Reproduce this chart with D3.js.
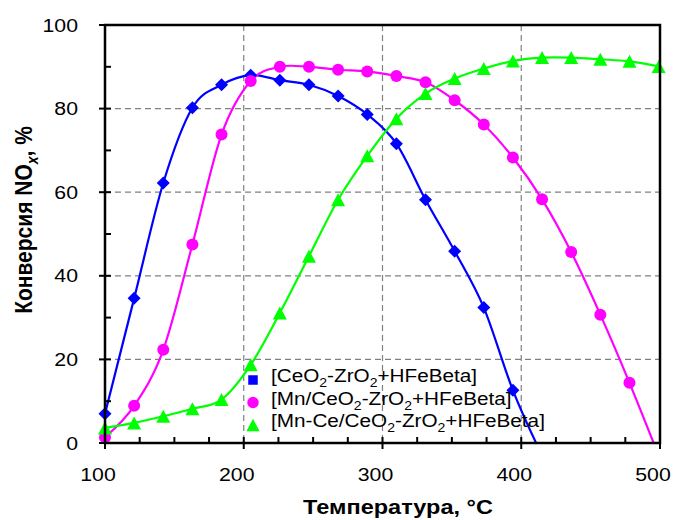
<html>
<head>
    <meta charset="utf-8">
    <script src="https://d3js.org/d3.v7.min.js"></script>
    <style>
        body { margin: 0; background: white; }
        text { font-family: "Liberation Sans", Arial, sans-serif; }
    </style>
</head>
<body>
    <svg id="chart" width="675" height="520"></svg>
    <script>
        // temperatures (°C) and conversion (%)
        const temps = [100, 121, 142, 163, 184, 205, 226, 247, 268, 289, 310, 331, 352, 373, 394, 415, 436, 457, 478, 499];
        const ceZr = [7.0, 34.6, 62.2, 80.2, 85.7, 88.0, 86.8, 85.7, 83.0, 78.6, 71.6, 58.2, 45.9, 32.4, 12.6, -3];
        const mnCeZr = [1.4, 8.9, 22.3, 47.5, 73.8, 86.6, 90.0, 90.0, 89.3, 88.9, 87.8, 86.3, 82.0, 76.2, 68.3, 58.3, 45.7, 30.7, 14.4, -3];
        const mnCeCeZr = [3.6, 4.8, 6.4, 8.2, 10.4, 18.7, 31.1, 44.7, 58.2, 68.7, 77.6, 83.6, 87.2, 89.6, 91.4, 92.2, 92.2, 91.8, 91.3, 90.1];

        const xTicks = [100, 200, 300, 400, 500];
        const yTicks = [0, 20, 40, 60, 80, 100];
        const xGrid = [200, 300, 400];
        const yGrid = [20, 40, 60, 80];

        const series = [
            { parts: [["[CeO", 0], ["2", 1], ["-ZrO", 0], ["2", 1], ["+HFeBeta]", 0]], values: ceZr, color: "#0000ff", symbol: "diamond", legendSymbol: "square" },
            { parts: [["[Mn/CeO", 0], ["2", 1], ["-ZrO", 0], ["2", 1], ["+HFeBeta]", 0]], values: mnCeZr, color: "#ff00ff", symbol: "circle", legendSymbol: "circle" },
            { parts: [["[Mn-Ce/CeO", 0], ["2", 1], ["-ZrO", 0], ["2", 1], ["+HFeBeta]", 0]], values: mnCeCeZr, color: "#00ff00", symbol: "triangle", legendSymbol: "triangle" }
        ];

        const svg = d3.select("#chart");
        const pLeft = 105, pRight = 660, pTop = 25, pBottom = 443;
        const stretch = 1.12;

        let x = d3.scaleLinear().domain([100, 500]).range([pLeft, pRight]);
        let y = d3.scaleLinear().domain([0, 100]).range([pBottom, pTop]);

        svg.append("defs").append("clipPath").attr("id", "plotclip")
            .append("rect").attr("x", pLeft).attr("y", pTop)
            .attr("width", pRight - pLeft).attr("height", pBottom - pTop);

        // dashed grid
        xGrid.forEach(d => {
            svg.append("line")
                .attr("x1", x(d)).attr("x2", x(d)).attr("y1", pTop).attr("y2", pBottom)
                .attr("stroke", "#808080").attr("stroke-width", 1.2).attr("stroke-dasharray", "6,4");
        });
        yGrid.forEach(d => {
            svg.append("line")
                .attr("x1", pLeft).attr("x2", pRight).attr("y1", y(d)).attr("y2", y(d))
                .attr("stroke", "#808080").attr("stroke-width", 1.2).attr("stroke-dasharray", "6,4");
        });

        // curves
        let line = d3.line()
            .x((d, i) => x(temps[i]))
            .y(d => y(d))
            .curve(d3.curveCardinal.tension(0));

        let plot = svg.append("g").attr("clip-path", "url(#plotclip)");
        series.forEach(s => {
            plot.append("path")
                .attr("d", line(s.values))
                .attr("fill", "none")
                .attr("stroke", s.color)
                .attr("stroke-width", 2.2);
        });

        function drawSymbol(g, kind, cx, cy, color, scale) {
            if (kind == "circle") {
                g.append("circle").attr("cx", cx).attr("cy", cy).attr("r", 6 * scale).attr("fill", color);
            } else if (kind == "diamond") {
                let r = 6.5 * scale;
                g.append("path")
                    .attr("d", `M${cx},${cy - r}L${cx + r},${cy}L${cx},${cy + r}L${cx - r},${cy}Z`)
                    .attr("fill", color);
            } else if (kind == "square") {
                let h = 5 * scale;
                g.append("rect").attr("x", cx - h).attr("y", cy - h).attr("width", 2 * h).attr("height", 2 * h).attr("fill", color);
            } else {
                let w = 7 * scale, h = 6.5 * scale;
                g.append("path")
                    .attr("d", `M${cx},${cy - h}L${cx + w},${cy + h}L${cx - w},${cy + h}Z`)
                    .attr("fill", color);
            }
        }

        // markers (only the ones inside the value axis range)
        series.forEach(s => {
            s.values.forEach((v, i) => {
                if (v < 0) return;
                drawSymbol(svg, s.symbol, x(temps[i]), y(v), s.color, 1);
            });
        });

        // frame
        svg.append("rect")
            .attr("x", pLeft).attr("y", pTop).attr("width", pRight - pLeft).attr("height", pBottom - pTop)
            .attr("fill", "none").attr("stroke", "black").attr("stroke-width", 2.5);

        // ticks
        d3.range(100, 501, 25).forEach(d => {
            let major = d % 100 == 0;
            svg.append("line")
                .attr("x1", x(d)).attr("x2", x(d))
                .attr("y1", pBottom - 6).attr("y2", major ? pBottom + 6 : pBottom)
                .attr("stroke", "black").attr("stroke-width", 2);
        });
        d3.range(0, 101, 10).forEach(d => {
            let major = d % 20 == 0;
            svg.append("line")
                .attr("x1", major ? pLeft - 6 : pLeft).attr("x2", pLeft + 6)
                .attr("y1", y(d)).attr("y2", y(d))
                .attr("stroke", "black").attr("stroke-width", 2);
        });

        function stretchedText(px, py, anchor, size, weight) {
            return svg.append("text")
                .attr("transform", `translate(${px},${py}) scale(${stretch},1)`)
                .attr("text-anchor", anchor)
                .attr("font-size", size)
                .attr("font-weight", weight);
        }

        xTicks.forEach(d => {
            stretchedText(x(d) - 7, 481, "middle", 19, "normal").text(d);
        });
        yTicks.forEach(d => {
            stretchedText(78, y(d) + 6.5, "end", 19, "normal").text(d);
        });

        // axis titles
        stretchedText(398, 514, "middle", 21, "bold").text("Температура, °C");

        let yt = svg.append("text")
            .attr("transform", `translate(32,220) rotate(-90) scale(1,${stretch})`)
            .attr("text-anchor", "middle")
            .attr("font-size", 21)
            .attr("font-weight", "bold");
        yt.append("tspan").text("Конверсия NO");
        yt.append("tspan").attr("font-size", 14).attr("dy", 5).attr("font-style", "italic").text("x");
        yt.append("tspan").attr("dy", -5).text(", %");

        // legend
        series.forEach((s, i) => {
            let cy = 380 + i * 22.5;
            drawSymbol(svg, s.legendSymbol, 253, cy, s.color, 0.95);
            let t = stretchedText(271, cy + 7, "start", 18.5, "normal");
            s.parts.forEach(p => {
                if (p[1]) {
                    t.append("tspan").attr("font-size", 12.5).attr("dy", 5).text(p[0]);
                } else {
                    t.append("tspan").attr("dy", t.selectAll("tspan").size() ? -5 : 0).text(p[0]);
                }
            });
        });
    </script>
</body>
</html>
